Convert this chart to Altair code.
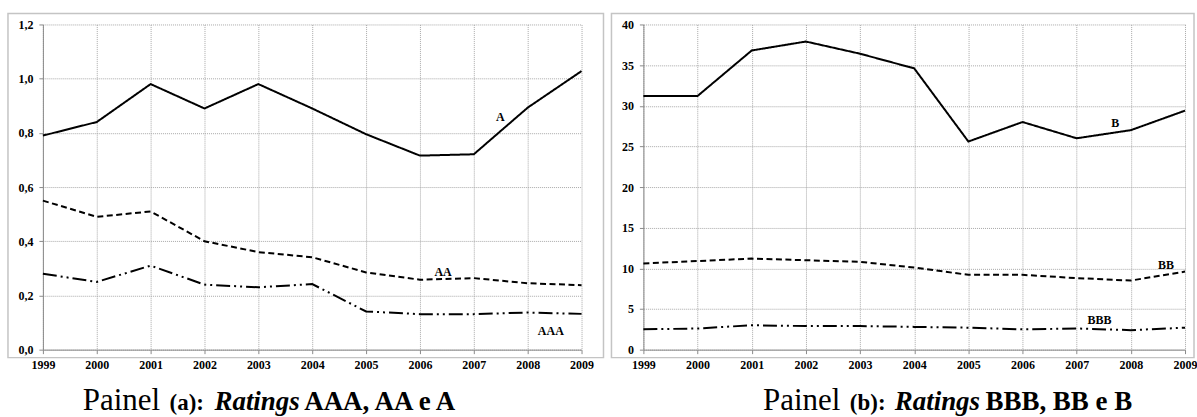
import altair as alt
import pandas as pd

# Rating classes per year, panel (a)
years = list(range(1999, 2010))
rating_a = [0.79, 0.84, 0.98, 0.89, 0.98, 0.89, 0.795, 0.716, 0.721, 0.893, 1.028]
rating_aa = [0.55, 0.49, 0.51, 0.40, 0.36, 0.341, 0.285, 0.258, 0.264, 0.245, 0.238]
rating_aaa = [0.28, 0.25, 0.31, 0.24, 0.23, 0.242, 0.141, 0.131, 0.131, 0.137, 0.132]

# Rating classes per year, panel (b)
rating_b = [31.2, 31.2, 36.8, 37.9, 36.4, 34.6, 25.6, 28.0, 26.0, 27.0, 29.4]
rating_bb = [10.6, 10.9, 11.2, 11.0, 10.8, 10.1, 9.2, 9.2, 8.8, 8.5, 9.6]
rating_bbb = [2.5, 2.6, 3.0, 2.9, 2.9, 2.8, 2.7, 2.5, 2.6, 2.4, 2.7]

# Series names and where their in-plot labels sit (year, value)
names_a = ["A", "AA", "AAA"]
label_pos_a = [(2007.49, 0.858), (2006.43, 0.285), (2008.43, 0.07)]
names_b = ["B", "BB", "BBB"]
label_pos_b = [(2007.71, 27.9), (2008.65, 10.4), (2007.42, 3.67)]

# Caption pieces
caption_a = ["Painel", "(a):", "Ratings", "AAA, AA e A"]
caption_b = ["Painel", "(b):", "Ratings", "BBB, BB e B"]

SERIF = "Liberation Serif"
DASHES = [[1, 0], [6, 3.5], [14, 4, 2, 4, 2, 4]]
CAPTION_STYLES = [
    dict(fontSize=31, fontWeight="normal", fontStyle="normal"),
    dict(fontSize=23, fontWeight="bold", fontStyle="normal"),
    dict(fontSize=27, fontWeight="bold", fontStyle="italic"),
    dict(fontSize=27, fontWeight="bold", fontStyle="normal"),
]


def one_row(text):
    return pd.DataFrame({"t": [text]})


def panel(series_values, names, label_pos, caption, caption_x, ymax, ystep,
          decimals, width, height, box_x, box_x2):
    x_enc = alt.X(
        "year:Q",
        scale=alt.Scale(domain=[1999, 2009], nice=False, zero=False),
        axis=alt.Axis(values=years, format="d", title=None, labelPadding=6),
    )
    y_ticks = [round(i * ystep, 4) for i in range(int(round(ymax / ystep)) + 1)]
    if decimals:
        label_expr = "replace(format(datum.value, '.1f'), '.', ',')"
    else:
        label_expr = "format(datum.value, 'd')"
    y_enc = alt.Y(
        "value:Q",
        scale=alt.Scale(domain=[0, ymax], nice=False, zero=True),
        axis=alt.Axis(values=y_ticks, labelExpr=label_expr, title=None, labelPadding=6),
    )

    layers = []
    # panel frame around plot, axes and labels
    layers.append(
        alt.Chart(one_row("")).mark_rect(fill=None, stroke="#c4c4c4", strokeWidth=1.5).encode(
            x=alt.value(box_x), x2=alt.value(box_x2),
            y=alt.value(-11), y2=alt.value(height + 8),
        )
    )
    for vals, name, dash in zip(series_values, names, DASHES):
        df = pd.DataFrame({"year": years, "value": vals, "serie": name})
        layers.append(
            alt.Chart(df).mark_line(color="black", strokeWidth=2, strokeDash=dash).encode(
                x=x_enc, y=y_enc
            )
        )
    lab = pd.DataFrame({
        "year": [p[0] for p in label_pos],
        "value": [p[1] for p in label_pos],
        "serie": names,
    })
    layers.append(
        alt.Chart(lab).mark_text(font=SERIF, fontWeight="bold", fontSize=12, color="black").encode(
            x=alt.X("year:Q"), y=alt.Y("value:Q"), text="serie:N"
        )
    )
    for text, style, cx in zip(caption, CAPTION_STYLES, caption_x):
        layers.append(
            alt.Chart(one_row(text)).mark_text(
                font=SERIF, align="left", baseline="alphabetic", color="black", **style
            ).encode(x=alt.value(cx), y=alt.value(height + 61), text="t:N")
        )
    return alt.layer(*layers).properties(width=width, height=height)


left = panel(
    [rating_a, rating_aa, rating_aaa], names_a, label_pos_a, caption_a,
    [40, 127, 172, 262], 1.2, 0.2, True, 540, 326, -35, 562,
)
right = panel(
    [rating_b, rating_bb, rating_bbb], names_b, label_pos_b, caption_b,
    [120, 207, 252, 343], 40, 5, False, 543, 326, -32, 552,
)

chart = (
    alt.hconcat(left, right, spacing=62, bounds="flush")
    .properties(padding={"left": 7, "top": 12, "right": 0, "bottom": 0})
    .configure_view(stroke=None)
    .configure_axis(
        labelFont=SERIF,
        labelFontWeight="bold",
        labelFontSize=12,
        labelColor="black",
        domainColor="#8a8a8a",
        tickColor="#8a8a8a",
        tickSize=4,
        gridColor="#a8a8a8",
        gridDash=[1, 1],
        gridWidth=1,
    )
    .configure_axisX(labelAlign="center")
)

chart.save("out.html", embed_options={"renderer": "svg", "actions": False})
